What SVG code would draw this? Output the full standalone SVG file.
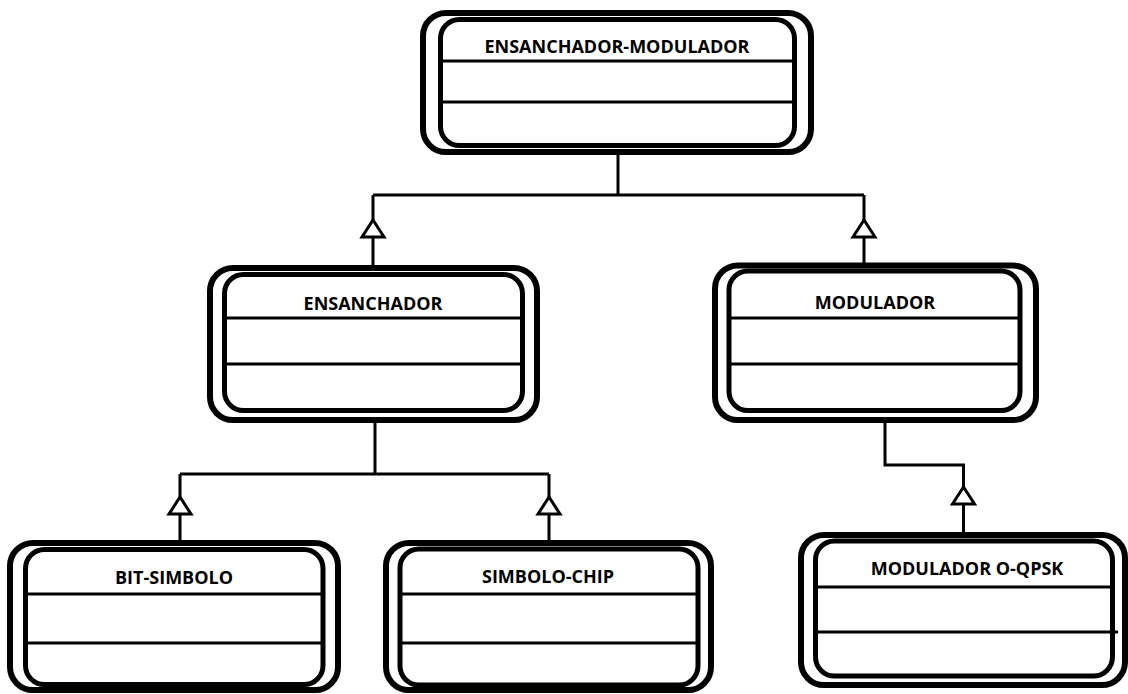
<svg xmlns="http://www.w3.org/2000/svg" width="1128" height="694" viewBox="0 0 1128 694">
  <defs>
    <style>
      .outer { fill: #ffffff; stroke: #000000; stroke-width: 6; }
      .inner { fill: #ffffff; stroke: #000000; stroke-width: 5; }
      .div { stroke: #000000; stroke-width: 3; }
      .title { font-family: "Open Sans", "Liberation Sans", sans-serif; font-weight: 700; font-size: 18px; fill: #000000; text-anchor: middle; }
      .conn { fill: none; stroke: #000000; stroke-width: 3; }
      .gen { fill: #ffffff; stroke: #000000; stroke-width: 3; stroke-linejoin: miter; }
    </style>
    <!-- hollow generalization triangle, apex at origin pointing up -->
    <polygon id="gen-head" class="gen" points="0,0 -11,17 11,17"/>
  </defs>
  <rect width="1128" height="694" fill="#ffffff"/>

  <!-- connectors -->
  <g id="connectors">
    <path class="conn" d="M618 155 V195 M373 195 H864 M373 195 V266 M864 195 V264"/>
    <path class="conn" d="M375 423 V474 M180 474 H549 M180 474 V541 M549 474 V541"/>
    <path class="conn" d="M885 423 V465 H963.5 V533"/>
    <use href="#gen-head" x="373" y="220"/>
    <use href="#gen-head" x="864" y="220"/>
    <use href="#gen-head" x="180" y="497"/>
    <use href="#gen-head" x="549" y="497"/>
    <use href="#gen-head" x="963.5" y="487"/>
  </g>

  <g id="ensanchador-modulador">
    <rect class="outer" x="423" y="13" width="388" height="139" rx="23"/>
    <rect class="inner" x="440.5" y="19.5" width="354" height="126" rx="19"/>
    <line class="div" x1="440.5" y1="61" x2="794.5" y2="61"/>
    <line class="div" x1="440.5" y1="102" x2="794.5" y2="102"/>
    <text class="title" x="617" y="53">ENSANCHADOR-MODULADOR</text>
  </g>

  <g id="ensanchador">
    <rect class="outer" x="210" y="268" width="327" height="152" rx="23"/>
    <rect class="inner" x="224.5" y="274.5" width="298" height="136" rx="19"/>
    <line class="div" x1="224.5" y1="318" x2="522.5" y2="318"/>
    <line class="div" x1="224.5" y1="364" x2="522.5" y2="364"/>
    <text class="title" x="373" y="310">ENSANCHADOR</text>
  </g>

  <g id="modulador">
    <rect class="outer" x="715" y="265.5" width="321" height="154.5" rx="23"/>
    <rect class="inner" x="729" y="271" width="291" height="139.5" rx="19"/>
    <line class="div" x1="729" y1="318" x2="1020" y2="318"/>
    <line class="div" x1="729" y1="364" x2="1020" y2="364"/>
    <text class="title" x="875" y="309">MODULADOR</text>
  </g>

  <g id="bit-simbolo">
    <rect class="outer" x="10" y="543" width="328" height="147" rx="23"/>
    <rect class="inner" x="25.5" y="549.5" width="297.5" height="135" rx="19"/>
    <line class="div" x1="25.5" y1="594" x2="323" y2="594"/>
    <line class="div" x1="25.5" y1="643" x2="323" y2="643"/>
    <text class="title" x="174" y="584">BIT-SIMBOLO</text>
  </g>

  <g id="simbolo-chip">
    <rect class="outer" x="386" y="543" width="325" height="147" rx="23"/>
    <rect class="inner" x="400" y="549" width="298" height="136" rx="19"/>
    <line class="div" x1="400" y1="594" x2="698" y2="594"/>
    <line class="div" x1="400" y1="643" x2="698" y2="643"/>
    <text class="title" x="548" y="583">SIMBOLO-CHIP</text>
  </g>

  <g id="modulador-oqpsk">
    <rect class="outer" x="801" y="535" width="324" height="150" rx="23"/>
    <rect class="inner" x="815.5" y="541" width="297" height="135" rx="19"/>
    <line class="div" x1="815.5" y1="587" x2="1112.5" y2="587"/>
    <line class="div" x1="815.5" y1="632" x2="1118" y2="632"/>
    <text class="title" x="967" y="575">MODULADOR O-QPSK</text>
  </g>
</svg>
